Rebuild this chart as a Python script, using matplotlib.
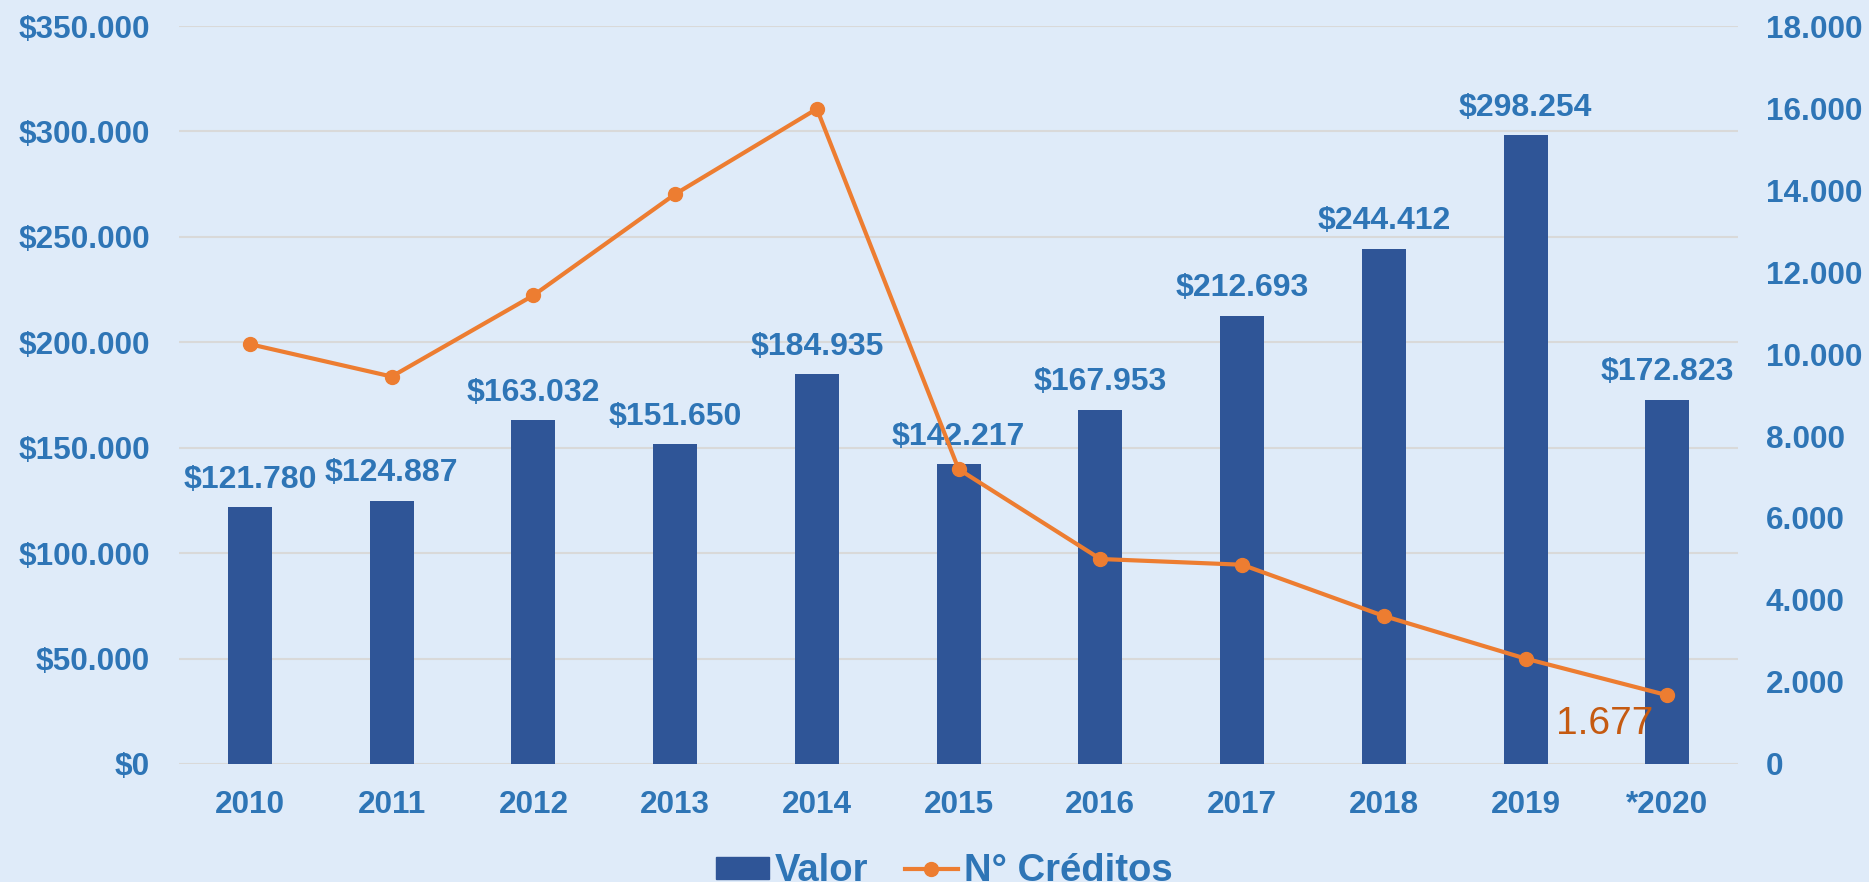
import numpy as np
import matplotlib.pyplot as plt
from matplotlib.patches import Patch
from matplotlib.lines import Line2D
from matplotlib.ticker import FuncFormatter

years = ['2010', '2011', '2012', '2013', '2014', '2015', '2016', '2017', '2018', '2019', '*2020']
valor = [121780, 124887, 163032, 151650, 184935, 142217, 167953, 212693, 244412, 298254, 172823]
creditos = [10240, 9450, 11430, 13900, 15980, 7190, 5000, 4860, 3610, 2570, 1677]

bg = '#DFEBF9'
bar_color = '#2F5597'
line_color = '#ED7D31'
text_color = '#2E75B6'
font = 'Liberation Sans'


def miles(v):
    return f'{int(round(v)):,}'.replace(',', '.')


fig = plt.figure(figsize=(18.69, 8.82), dpi=100, facecolor=bg)
ax = fig.add_axes([0.0958, 0.1338, 0.8342, 0.8367], facecolor=bg)
ax2 = ax.twinx()

x = np.arange(len(years))
ax.bar(x, valor, width=0.31, color=bar_color, zorder=2)
ax.set_ylim(0, 350000)
ax.set_xlim(-0.5, len(years) - 0.5)
ax.set_yticks(np.arange(0, 350001, 50000))
ax.yaxis.set_major_formatter(FuncFormatter(lambda v, p: '$' + miles(v)))
ax.grid(axis='y', color='#D9D9D9', lw=1.5, zorder=0)
ax.set_axisbelow(True)
ax.set_xticks(x)
ax.set_xticklabels(years)

for xi, v in zip(x, valor):
    ax.annotate('$' + miles(v), (xi, v), xytext=(0, 9), textcoords='offset points',
                ha='center', va='bottom', fontsize=23, fontweight='bold',
                color=text_color, family=font)

ax2.plot(x, creditos, color=line_color, lw=3, marker='o', markersize=10, zorder=3)
ax2.set_ylim(0, 18000)
ax2.set_yticks(np.arange(0, 18001, 2000))
ax2.yaxis.set_major_formatter(FuncFormatter(lambda v, p: miles(v)))
ax2.annotate(miles(creditos[-1]), (x[-1], creditos[-1]), xytext=(-10, -8),
             textcoords='offset points', ha='right', va='top', fontsize=28,
             color='#C55A11', family=font)

for a in (ax, ax2):
    for s in a.spines.values():
        s.set_visible(False)
    a.tick_params(length=0, labelsize=22.7, labelcolor=text_color)
    for lab in a.get_xticklabels() + a.get_yticklabels():
        lab.set_fontweight('bold')
        lab.set_family(font)
ax.tick_params(axis='y', pad=21)
ax.tick_params(axis='x', pad=19)
ax2.tick_params(axis='y', pad=20)

handles = [Patch(color=bar_color),
           Line2D([0], [0], color=line_color, lw=3, marker='o', markersize=10)]
fig.legend(handles, ['Valor', 'N° Créditos'], loc='center', bbox_to_anchor=(0.5053, 0.012),
           ncol=2, frameon=False, handlelength=1.37, handleheight=0.53, handletextpad=0.16,
           columnspacing=0.97, borderpad=0,
           prop={'family': font, 'weight': 'bold', 'size': 27.5}, labelcolor=text_color)

fig.savefig('out.png', dpi=100, facecolor=bg)
